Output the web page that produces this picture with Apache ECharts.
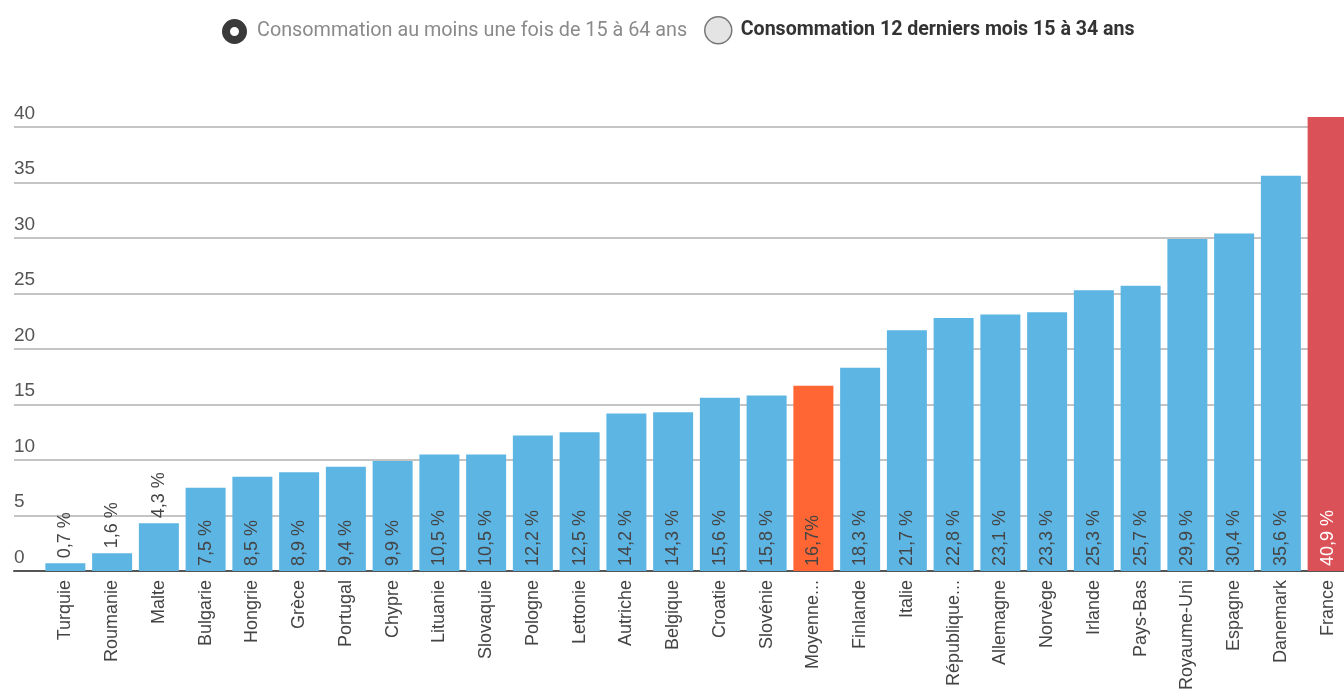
<!DOCTYPE html>
<html>
<head>
<meta charset="utf-8">
<script src="https://cdn.jsdelivr.net/npm/echarts@6/dist/echarts.min.js"></script>
<style>
  html, body { margin: 0; padding: 0; background: #fff; }
  #chart { width: 1344px; height: 693px; }
</style>
</head>
<body>
<div id="chart"></div>
<script>
// données
const pays = ["Turquie", "Roumanie", "Malte", "Bulgarie", "Hongrie", "Grèce", "Portugal", "Chypre",
  "Lituanie", "Slovaquie", "Pologne", "Lettonie", "Autriche", "Belgique", "Croatie", "Slovénie",
  "Moyenne européenne", "Finlande", "Italie", "République tchèque", "Allemagne", "Norvège", "Irlande",
  "Pays-Bas", "Royaume-Uni", "Espagne", "Danemark", "France"];
const valeurs = [0.7, 1.6, 4.3, 7.5, 8.5, 8.9, 9.4, 9.9, 10.5, 10.5, 12.2, 12.5, 14.2, 14.3, 15.6, 15.8,
  16.7, 18.3, 21.7, 22.8, 23.1, 23.3, 25.3, 25.7, 29.9, 30.4, 35.6, 40.9];
const yTicks = [0, 5, 10, 15, 20, 25, 30, 35, 40];
const legende = ["Consommation au moins une fois de 15 à 64 ans", "Consommation 12 derniers mois 15 à 34 ans"];

const BLEU = '#5db5e4', ORANGE = '#ff6633', ROUGE = '#da5157';
const police = 'Arial, "Liberation Sans", sans-serif';

let chart = echarts.init(document.getElementById('chart'));

function fmt(v){ return v.toFixed(1).replace('.', ','); }

let barData = valeurs.map((v, i) => {
    let nom = pays[i];
    let item = { value: v, itemStyle: { color: BLEU }, label: {} };
    if (nom === "Moyenne européenne") {
        item.itemStyle.color = ORANGE;
        item.label.formatter = fmt(v) + '%';
    }
    if (nom === "France") {
        item.itemStyle.color = ROUGE;
        item.label.color = '#fff';
    }
    if (v < 5) {
        item.label.position = 'top';
        item.label.distance = 5;
    }
    return item;
});

let options = {
    animation: false,
    legend: [{
        data: [{ name: legende[0], icon: 'circle',
            itemStyle: { color: '#fff', borderColor: '#3a3a3a', borderWidth: 8 } }],
        selectedMode: false,
        padding: 0,
        left: 222, top: 19,
        itemWidth: 17, itemHeight: 17,
        textStyle: { fontFamily: 'Roboto', fontSize: 19.8, color: '#8a8a8a', padding: [0, 0, 0, 9] }
    }, {
        data: [{ name: legende[1], icon: 'circle',
            itemStyle: { color: '#e4e4e4', borderColor: '#777', borderWidth: 1.5 } }],
        selectedMode: false,
        padding: 0,
        left: 704, top: 16,
        itemWidth: 27, itemHeight: 27,
        textStyle: { fontFamily: 'Roboto', fontSize: 19.6, fontWeight: 'bold', color: '#333', padding: [0, 0, 0, 4] }
    }],
    grid: [
        { left: 42, width: 1309, top: 127, bottom: 122, outerBoundsMode: 'none' },
        { left: 14, right: 0, top: 127, bottom: 122, outerBoundsMode: 'none' }
    ],
    xAxis: [{
        type: 'category',
        gridIndex: 0,
        data: pays,
        axisLine: { show: false },
        axisTick: { show: false },
        axisLabel: {
            interval: 0,
            rotate: 90,
            margin: 9,
            fontFamily: police,
            fontSize: 18,
            color: '#444',
            formatter(nom){
                return nom.indexOf(' ') > 0 ? nom.split(' ')[0] + '...' : nom;
            }
        }
    }, {
        type: 'value',
        gridIndex: 1,
        show: true,
        axisLine: { show: true, onZero: false, lineStyle: { color: '#555', width: 2 } },
        axisTick: { show: false },
        axisLabel: { show: false },
        splitLine: { show: false }
    }],
    yAxis: [{
        type: 'value',
        gridIndex: 0,
        min: 0, max: 40, interval: 5,
        show: false
    }, {
        type: 'value',
        gridIndex: 1,
        min: yTicks[0], max: yTicks[yTicks.length - 1], interval: 5,
        axisLine: { show: false },
        axisTick: { show: false },
        axisLabel: {
            inside: true,
            margin: 0,
            verticalAlign: 'bottom',
            padding: [0, 0, 4, 0],
            fontFamily: police,
            fontSize: 19,
            color: '#555'
        },
        splitLine: { lineStyle: { color: '#c4c4c4', width: 2 } }
    }],
    series: [{
        name: legende[0],
        type: 'bar',
        xAxisIndex: 0,
        yAxisIndex: 0,
        barWidth: 40,
        clip: false,
        z: 3,
        data: barData,
        label: {
            show: true,
            position: 'insideBottom',
            distance: 5,
            rotate: 90,
            align: 'left',
            verticalAlign: 'middle',
            fontFamily: police,
            fontSize: 18,
            color: '#444',
            formatter: p => fmt(p.value) + ' %'
        }
    }, {
        name: legende[1],
        type: 'line',
        xAxisIndex: 1,
        yAxisIndex: 1,
        data: []
    }]
};

chart.setOption(options);
</script>
</body>
</html>
